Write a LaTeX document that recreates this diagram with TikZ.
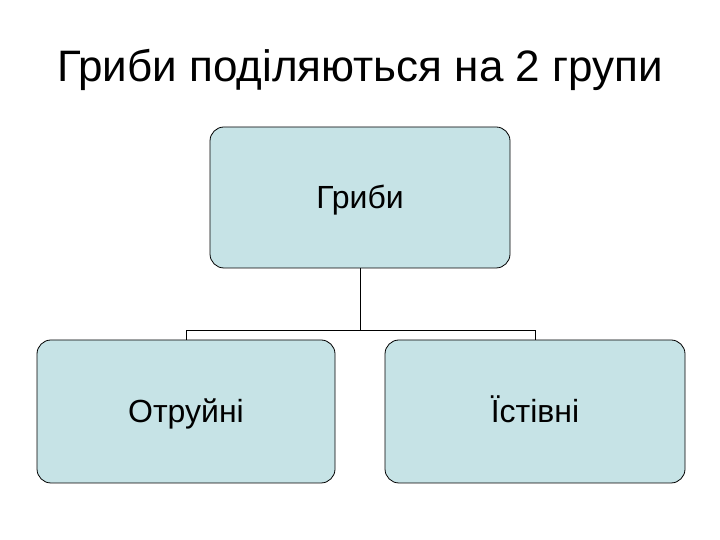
\documentclass[tikz,border=0pt]{standalone}
\usepackage{fontspec}
\setmainfont{Liberation Sans}
\definecolor{boxfill}{HTML}{C6E3E6}
\begin{document}
\begin{tikzpicture}[x=1pt,y=1pt,
  box/.style={draw=black,fill=boxfill,rounded corners=14pt,line width=0.8pt},
  lbl/.style={font=\fontsize{32}{38}\selectfont,anchor=base},
  conn/.style={draw=black,line width=0.9pt}]
\useasboundingbox (0,0) rectangle (720,540);
\node[font=\fontsize{44}{52}\selectfont,anchor=base] (title) at (360,458) {Гриби поділяються на 2 групи};
\node[box,minimum width=300pt,minimum height=141pt] (top) at (360,342.5) {};
\node[box,minimum width=298pt,minimum height=143pt] (l) at (186,128.5) {};
\node[box,minimum width=300pt,minimum height=143pt] (r) at (535,128.5) {};
\node[lbl] (tt) at (360,331) {Гриби};
\node[lbl] (lt) at (186,117) {Отруйні};
\node[lbl] (rt) at (535,117) {Їстівні};
\coordinate (m) at (360,210);
\draw[conn] (top.south) -- (m);
\draw[conn] (l.north) -- (l.north |- m) -- (r.north |- m) -- (r.north);
\end{tikzpicture}
\end{document}
